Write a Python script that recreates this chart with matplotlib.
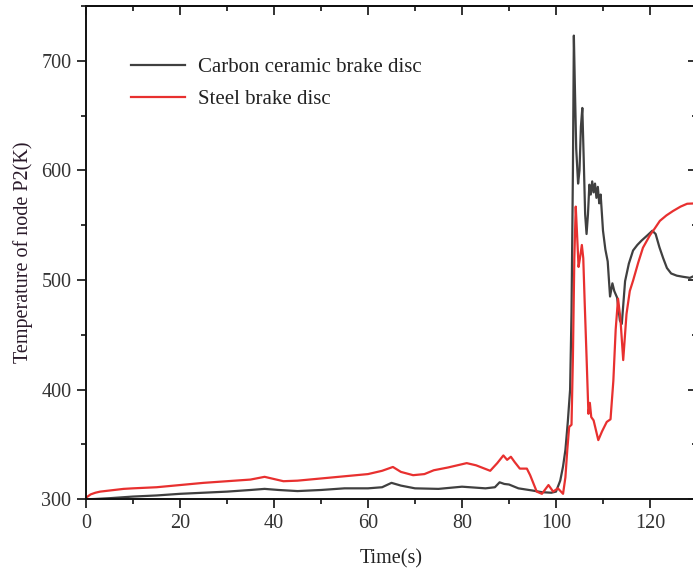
import matplotlib
matplotlib.use("Agg")
import matplotlib.pyplot as plt
from matplotlib.ticker import MultipleLocator

plt.rcParams['font.family'] = ['Liberation Serif', 'DejaVu Serif']

# Carbon ceramic brake disc
t_carbon = [0, 2, 5, 10, 15, 20, 25, 30, 35, 38, 41, 45, 50, 55, 60, 63, 65, 67, 70, 75,
            80, 85, 87, 88, 89, 90, 92, 95, 97, 99, 100, 100.9, 101.5, 102, 102.5, 103,
            103.3, 103.6, 103.8, 104.0, 104.3, 104.7, 105.0, 105.3, 105.6, 105.9, 106.2,
            106.5, 106.8, 107.1, 107.4, 107.7, 108.0, 108.3, 108.6, 108.9, 109.2, 109.5,
            110, 110.5, 111, 111.5, 112, 112.4, 113, 113.6, 114, 114.7, 115.5, 116.4,
            117.3, 118.2, 119.5, 120.5, 121.2, 122, 122.8, 123.6, 124.5, 125.7, 127,
            128.5, 130]
T_carbon = [300, 300.3, 301, 302.5, 303.5, 305, 306, 307, 308.5, 309.5, 308.5, 307.5,
            308.5, 310, 310, 311, 315, 312.5, 310, 309.5, 311.5, 310, 311, 315.5, 314,
            313.5, 310, 308, 306.5, 306, 307, 317, 330, 345, 370, 400, 470, 600, 723, 680,
            620, 588, 600, 640, 657, 610, 560, 542, 560, 587, 578, 590, 580, 588, 575, 585,
            570, 578, 545, 528, 517, 485, 497, 490, 484, 463, 460, 499, 515, 527, 532, 536,
            541, 545, 542, 530, 520, 511, 506, 504, 503, 502, 505]

# Steel brake disc
t_steel = [0, 0.5, 1, 2, 3, 5, 8, 10, 15, 20, 25, 30, 35, 38, 40, 42, 45, 50, 55, 60, 63,
           65.3, 67, 69.6, 72, 74, 77, 81, 83, 86, 87.5, 88.8, 89.6, 90.4, 91.2, 92.3,
           93.8, 94.5, 95.9, 97, 98.4, 99.4, 100.4, 101.5, 102, 102.4, 102.8, 103.3,
           103.6, 103.9, 104.2, 104.5, 104.8, 105.1, 105.5, 105.8, 106.1, 106.5, 106.9,
           107.2, 107.5, 108, 109, 109.8, 110.8, 111.6, 112.2, 112.7, 113.2, 113.7, 114.3,
           115, 115.7, 116.4, 117.5, 118.5, 120, 121, 122.1, 123.5, 124.9, 126.5, 127.9, 130]
T_steel = [301.5, 303, 304.5, 306, 307, 308, 309.5, 310, 311, 313, 315, 316.5, 318, 320.5,
           318.5, 316.5, 317, 319, 321, 323, 326, 329.5, 325, 322, 323, 326.5, 329, 333,
           331, 326, 333, 340, 336, 338.8, 334, 328, 328, 322, 307, 305, 313, 307, 310,
           305, 320, 345, 366, 368, 430, 520, 567, 540, 512, 520, 532, 520, 480, 430, 378,
           388, 375, 372, 354, 362, 370.6, 373, 408, 455, 483, 465, 427, 469, 490, 499.5,
           516, 529.5, 541, 547, 554, 559, 563, 567, 569.6, 570]

labels = ["Carbon ceramic brake disc", "Steel brake disc"]
colors = ["#404040", "#e8302f"]

fig = plt.figure(figsize=(6.93, 5.74), dpi=100)
ax = fig.add_axes([86/693, 1 - 499.3/574, (697 - 86)/693, (499.3 - 6)/574])

ax.plot(t_carbon, T_carbon, color=colors[0], lw=1.6, label=labels[0])
ax.plot(t_steel, T_steel, color=colors[1], lw=1.6, label=labels[1])

ax.set_xlim(0, 130)
ax.set_ylim(300, 750)
ax.xaxis.set_major_locator(MultipleLocator(20))
ax.xaxis.set_minor_locator(MultipleLocator(10))
ax.yaxis.set_major_locator(MultipleLocator(100))
ax.yaxis.set_minor_locator(MultipleLocator(50))
ax.set_yticks([300, 400, 500, 600, 700])

tc = "#333333"
ax.tick_params(which='major', direction='out', length=6.5, width=1.2, labelsize=14.5,
               colors='#111111', labelcolor=tc, pad=4)
ax.tick_params(which='minor', direction='out', length=3.5, width=1.2, colors='#111111')
for s in ax.spines.values():
    s.set_linewidth(1.4)
    s.set_color('#111111')

top = ax.secondary_xaxis('top')
top.xaxis.set_major_locator(MultipleLocator(20))
top.xaxis.set_minor_locator(MultipleLocator(10))
top.tick_params(which='major', direction='in', length=6.5, width=1.2, labeltop=False, colors='#111111')
top.tick_params(which='minor', direction='in', length=3.5, width=1.2, colors='#111111')
top.spines['top'].set_linewidth(1.4)

right = ax.secondary_yaxis('right')
right.yaxis.set_major_locator(MultipleLocator(100))
right.yaxis.set_minor_locator(MultipleLocator(50))
right.tick_params(which='major', direction='in', length=6.5, width=1.2, labelright=False, colors='#111111')
right.tick_params(which='minor', direction='in', length=3.5, width=1.2, colors='#111111')

ax.set_xlabel("Time(s)", fontsize=14.5, color='#222222', labelpad=12)
ax.set_ylabel("Temperature of node P2(K)", fontsize=14.5, color='#2a1a2a', labelpad=6)

leg = ax.legend(loc='upper left', bbox_to_anchor=(0.0436, 0.934), frameon=False,
                fontsize=15, handlelength=2.55, handletextpad=0.65, labelspacing=0.6)
for txt in leg.get_texts():
    txt.set_color('#222222')

fig.savefig("out.png", dpi=100)
